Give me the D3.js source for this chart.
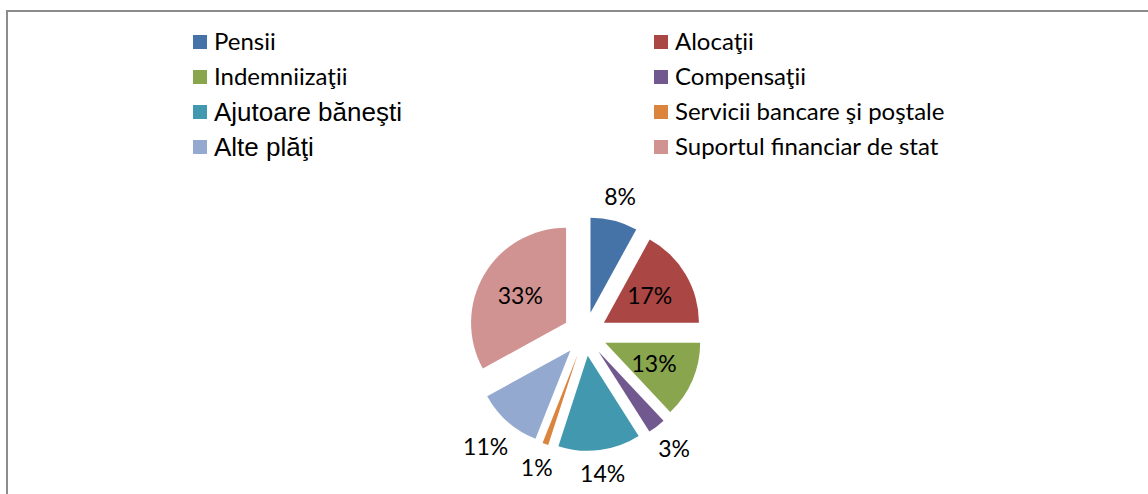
<!DOCTYPE html>
<html>
<head>
<meta charset="utf-8">
<script src="https://cdn.jsdelivr.net/npm/d3@7"></script>
<style>
  html, body { margin: 0; padding: 0; background: #fff; }
  svg { display: block; }
</style>
</head>
<body>
<svg id="chart" width="1148" height="494"></svg>
<script>
const categories = ["Pensii", "Alocaţii", "Indemniizaţii", "Compensaţii", "Ajutoare băneşti", "Servicii bancare şi poştale", "Alte plăţi", "Suportul financiar de stat"];
const values = [8, 17, 13, 3, 14, 1, 11, 33];
const colors = ["#4572A7", "#AA4643", "#89A54E", "#71588F", "#4198AF", "#DB843D", "#93A9CF", "#D19392"];
const labelInside = [false, true, true, false, false, false, false, true];
const legendFonts = ["Lato", "Lato", "Lato", "Lato", "Liberation Sans", "Lato", "Liberation Sans", "Lato"];

const svg = d3.select("#chart");

// outer frame
svg.append("rect")
  .attr("x", 7).attr("y", 11)
  .attr("width", 1160).attr("height", 520)
  .attr("fill", "none").attr("stroke", "#8c8c8c").attr("stroke-width", 2);

// legend
const legend = svg.append("g");
const colX = [193, 654];
const rowY = [42, 77, 112, 147];
categories.forEach((c, i) => {
  const col = i % 2, row = Math.floor(i / 2);
  const g = legend.append("g").attr("transform", `translate(${colX[col]},${rowY[row]})`);
  g.append("rect").attr("x", 0).attr("y", -7).attr("width", 14).attr("height", 14).attr("fill", colors[i]);
  const big = legendFonts[i] !== "Lato";
  g.append("text").attr("x", 21).attr("y", 0).attr("dy", "0.35em")
    .attr("font-family", legendFonts[i])
    .attr("font-size", big ? 26 : 24)
    .attr("fill", "#000")
    .text(c);
});

// pie
const cx = 585, cy = 334, r = 95, explode = 22;
const pie = d3.pie().sort(null).value(d => d)(values);
const arc = d3.arc().innerRadius(0).outerRadius(r);
const g = svg.append("g").attr("transform", `translate(${cx},${cy})`);

const slices = g.selectAll("g.slice").data(pie).join("g")
  .attr("class", "slice")
  .attr("transform", d => {
    const a = (d.startAngle + d.endAngle) / 2;
    return `translate(${explode * Math.sin(a)},${-explode * Math.cos(a)})`;
  });

slices.append("path").attr("d", arc).attr("fill", (d, i) => colors[i]);

const labels = slices.append("text")
  .attr("font-family", "Lato")
  .attr("font-size", 23)
  .attr("text-anchor", "middle")
  .attr("dy", "0.35em")
  .attr("fill", "#000")
  .text(d => d.value + "%");

labels.attr("transform", function (d, i) {
  const a = (d.startAngle + d.endAngle) / 2;
  const s = Math.sin(a), c = Math.cos(a);
  let lr;
  if (labelInside[i]) {
    lr = r * 0.56;
  } else {
    const bb = this.getBBox();
    lr = r + 11 + Math.abs(s) * bb.width / 2 + Math.abs(c) * bb.height * 0.35;
  }
  return `translate(${lr * s},${-lr * c})`;
});
</script>
</body>
</html>
